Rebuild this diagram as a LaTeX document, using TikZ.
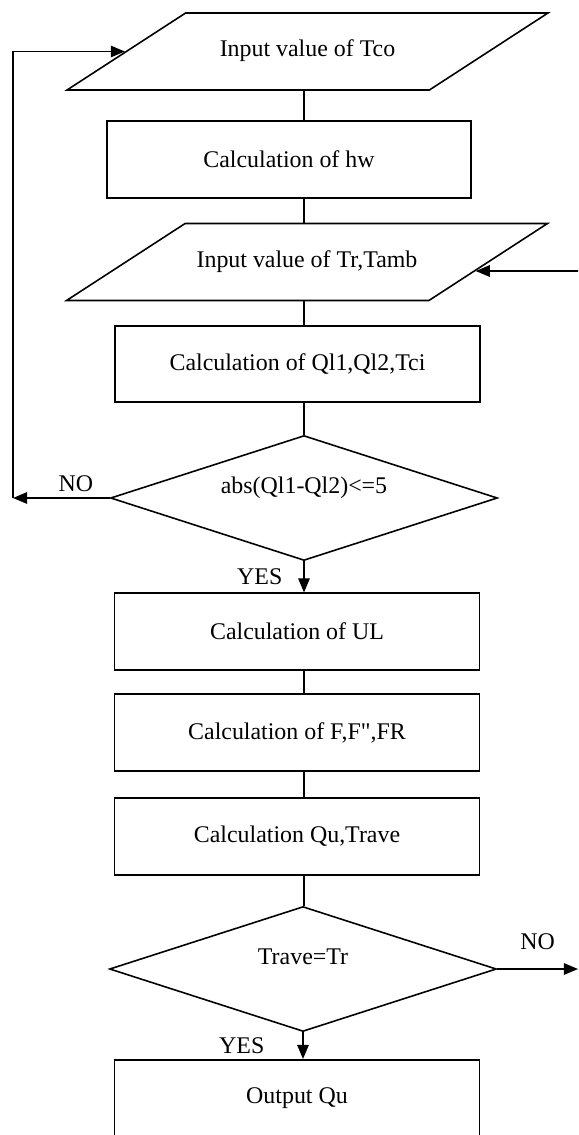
\documentclass[tikz,border=0pt]{standalone}
\usepackage{fontspec}
\setmainfont{Liberation Serif}[Ligatures=TeXOff]
\usetikzlibrary{shapes.geometric,arrows.meta,calc}

\begin{document}
\begin{tikzpicture}[x=0.02cm,y=-0.02cm,line width=0.9pt,
    font=\fontsize{13.6}{16}\selectfont,
    io/.style={draw,trapezium,trapezium left angle=33,trapezium right angle=147,
      trapezium stretches body,minimum width=9.62cm,text height=0.33cm,text depth=0.12cm,
      inner xsep=0pt,inner ysep=0.545cm},
    calcbox/.style={draw,rectangle,minimum width=7.3cm,minimum height=1.53cm},
    test/.style={draw,diamond,aspect=3.1,minimum width=7.74cm,minimum height=2.5cm,
      inner sep=0pt,text depth=0.5cm},
    arr/.style={-{Triangle[length=8pt,width=6.5pt]}}]
    \useasboundingbox (0,0) rectangle (578,1135);
    \node[io] (tco) at (307.5,51.5) {Input value of Tco};
    \node[calcbox,minimum width=7.28cm] (hw) at (289,159.5) {Calculation of hw};
    \node[io] (tr) at (307,262) {Input value of Tr,Tamb};
    \node[calcbox] (ql) at (297.5,364) {Calculation of Ql1,Ql2,Tci};
    \node[test] (dq) at (304,498) {abs(Ql1-Ql2)<=5};
    \node[calcbox] (ul) at (297,631.5) {Calculation of UL};
    \node[calcbox] (ff) at (297,732.5) {Calculation of F,F",FR};
    \node[calcbox] (qu) at (297,836.5) {Calculation Qu,Trave};
    \node[test] (dt) at (303,969) {Trave=Tr};
    \node[calcbox] (out) at (297,1098) {Output Qu};
    \coordinate (lft) at (13,498);
    \coordinate (rgt) at (578,271);
    \draw (tco.south -| dq.north) -- (hw.north -| dq.north);
    \draw (hw.south -| dq.north) -- (tr.north -| dq.north);
    \draw (tr.south -| dq.north) -- (ql.north -| dq.north);
    \draw (ql.south -| dq.north) -- (dq.north);
    \draw[arr] (dq.south) -- node[left=0.3cm] (yes1) {YES} (ul.north -| dq.south);
    \draw (ul.south -| dq.north) -- (ff.north -| dq.north);
    \draw (ff.south -| dq.north) -- (qu.north -| dq.north);
    \draw (qu.south -| dq.north) -- (dt.north -| dq.north);
    \draw[arr] (dt.south) -- node[left=0.64cm] (yes2) {YES} (out.north -| dt.south);
    \draw[arr] (dq.west) -- node[above,pos=0.35] (no1) {NO} (lft);
    \draw[arr] (lft) |- (tco.west);
    \draw[arr] (dt.east) -- node[above=0.25cm] (no2) {NO} (dt.east -| rgt);
    \draw[arr] (rgt) -- ($(tr.top right corner)!0.615!(tr.bottom right corner)$);
\end{tikzpicture}
\end{document}
